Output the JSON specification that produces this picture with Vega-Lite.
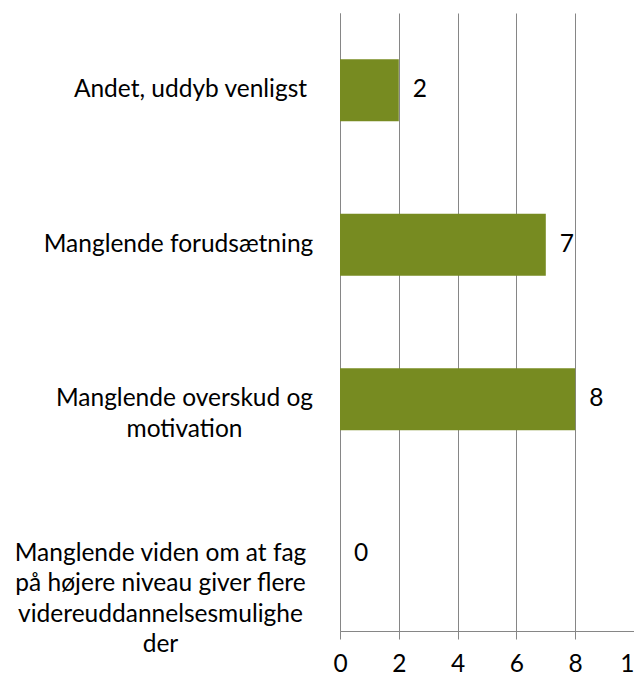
{
  "$schema": "https://vega.github.io/schema/vega-lite/v6.json",
  "width": 294,
  "height": 618,
  "autosize": {"type": "none"},
  "padding": {"left": 340, "top": 13, "right": 0, "bottom": 46},
  "data": {
    "values": [
      {"reason": "Andet, uddyb venligst", "count": 2},
      {"reason": "Manglende forudsætning", "count": 7},
      {"reason": "Manglende overskud og|motivation", "count": 8},
      {"reason": "Manglende viden om at fag|på højere niveau giver flere|videreuddannelsesmulighe|der", "count": 0}
    ]
  },
  "config": {"view": {"stroke": null}},
  "encoding": {
    "y": {
      "field": "reason",
      "type": "nominal",
      "sort": null,
      "scale": {"paddingInner": 0.6, "paddingOuter": 0.3},
      "axis": {
        "title": null,
        "ticks": false,
        "tickSize": 0,
        "domainColor": "#868686",
        "grid": false,
        "labelAlign": "center",
        "labelBaseline": "middle",
        "labelFont": "Lato",
        "labelFontSize": 24.5,
        "labelColor": "#000000",
        "labelLineHeight": 30.5,
        "labelLimit": 0,
        "labelPadding": {
          "condition": [
            {"test": "datum.value === 'Andet, uddyb venligst'", "value": 150},
            {"test": "slice(datum.value, 0, 15) === 'Manglende forud'", "value": 162},
            {"test": "slice(datum.value, 0, 15) === 'Manglende overs'", "value": 156}
          ],
          "value": 180
        },
        "labelExpr": "split(datum.value, '|')"
      }
    }
  },
  "layer": [
    {
      "mark": {"type": "bar", "color": "#778B21"},
      "encoding": {
        "x": {
          "field": "count",
          "type": "quantitative",
          "scale": {"domain": [0, 10], "nice": false},
          "axis": {
            "title": null,
            "values": [0, 2, 4, 6, 8, 10],
            "grid": true,
            "gridColor": "#868686",
            "domainColor": "#868686",
            "tickColor": "#868686",
            "tickSize": 8,
            "labelFont": "Lato",
            "labelFontSize": 24.5,
            "labelColor": "#000000",
            "labelPadding": 13,
            "labelFlush": false,
            "labelOverlap": false
          }
        }
      }
    },
    {
      "mark": {"type": "text", "align": "left", "baseline": "middle", "dx": 14, "font": "Lato", "fontSize": 24.5, "color": "#000000"},
      "encoding": {
        "x": {"field": "count", "type": "quantitative"},
        "text": {"field": "count", "type": "quantitative"}
      }
    }
  ]
}
